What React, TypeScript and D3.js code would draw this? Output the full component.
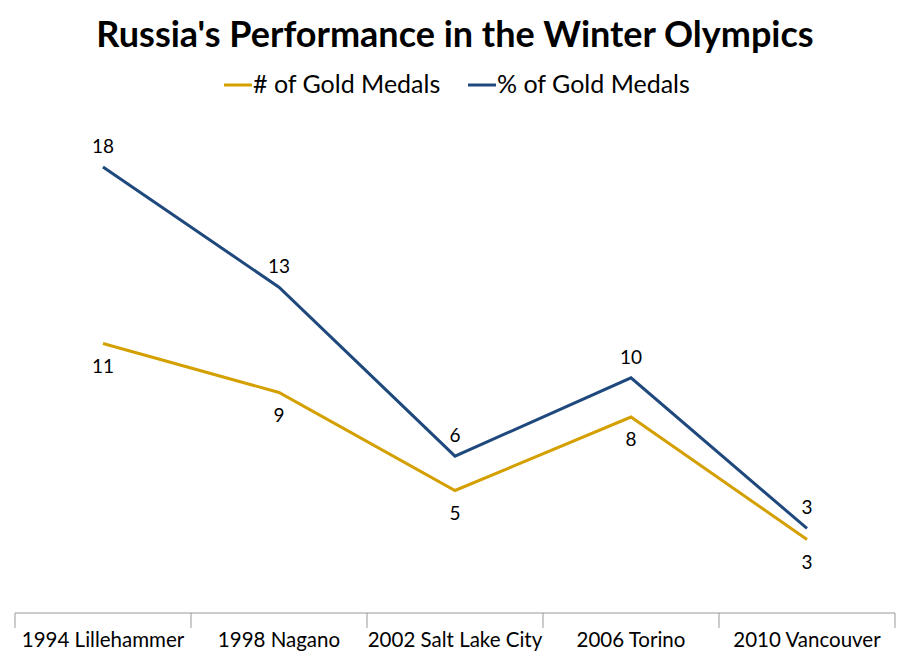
import React from "react";
import * as d3 from "d3";

const categories = ["1994 Lillehammer", "1998 Nagano", "2002 Salt Lake City", "2006 Torino", "2010 Vancouver"];
const goldCount = [11, 9, 5, 8, 3];
const goldPct = [18.2, 13.3, 6.4, 9.6, 3.45];
const seriesNames = ["# of Gold Medals", "% of Gold Medals"];
const colors = ["#D4A000", "#1F497D"];

export default function App() {
  const W = 910, H = 661;
  const x = d3.scaleBand().domain(categories).range([15, 895]);
  const y = d3.scaleLinear().domain([0, 20]).range([613, 123]);
  const line = d3.line<number>().x((_, i) => x(categories[i])! + x.bandwidth() / 2).y(d => y(d));
  const font = "Lato, 'Open Sans', 'Liberation Sans', sans-serif";
  const series = [goldCount, goldPct];
  return (
    <svg width={W} height={H} style={{ position: "absolute", left: 0, top: 0 }} fontFamily={font}>
      <rect width={W} height={H} fill="#fff" />
      <text x={455} y={47} textAnchor="middle" fontSize={36} fontWeight="bold">Russia's Performance in the Winter Olympics</text>
      {seriesNames.map((n, i) => {
        const lx = i === 0 ? 224 : 468;
        return (
          <g key={n}>
            <line x1={lx} x2={lx + 28} y1={85} y2={85} stroke={colors[i]} strokeWidth={3} />
            <text x={lx + 29} y={93} fontSize={25}>{n}</text>
          </g>
        );
      })}
      <line x1={15} x2={895} y1={613} y2={613} stroke="#999" />
      {categories.map((c, i) => (
        <g key={c}>
          <line x1={x(c)!} x2={x(c)!} y1={613} y2={628} stroke="#999" />
          <text x={x(c)! + x.bandwidth() / 2} y={647} textAnchor="middle" fontSize={20.5}>{c}</text>
        </g>
      ))}
      <line x1={895} x2={895} y1={613} y2={628} stroke="#999" />
      {series.map((s, si) => (
        <g key={si}>
          <path d={line(s)!} fill="none" stroke={colors[si]} strokeWidth={3} />
          {s.map((v, i) => (
            <text key={i} x={x(categories[i])! + x.bandwidth() / 2} y={y(v) + (si === 0 ? 29 : -14)} textAnchor="middle" fontSize={19}>
              {d3.format(".0f")(v)}
            </text>
          ))}
        </g>
      ))}
    </svg>
  );
}
